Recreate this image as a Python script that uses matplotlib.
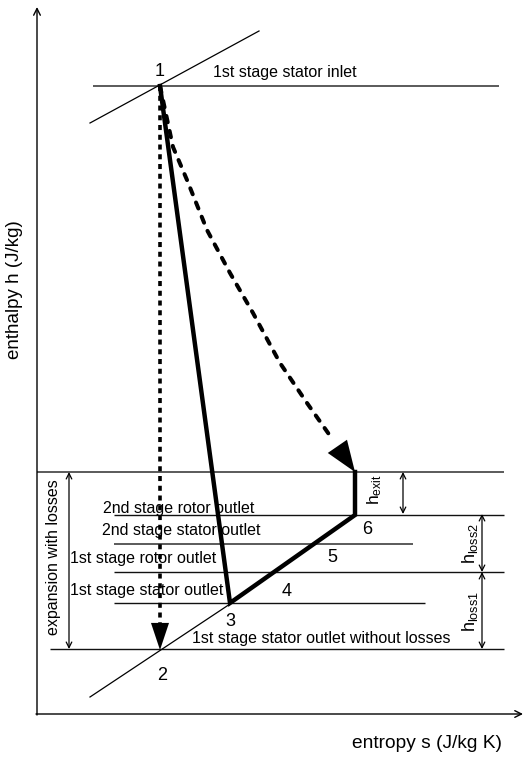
import matplotlib
matplotlib.use("Agg")
import matplotlib.pyplot as plt

plt.rcParams['font.family'] = ['Liberation Sans', 'DejaVu Sans']
plt.rcParams['mathtext.default'] = 'regular'

# ---- schematic data (entropy s -> x, enthalpy h -> y, drawing units) ----
# state points
state_labels = ["1", "2", "3", "6"]
state_s = [160, 160, 230, 355]
state_h = [86, 650, 603, 515]
exit_s, exit_h = 355, 472

# real expansion path 1 -> 3 -> 6 -> exit
path_s = [160, 230, 355, 355]
path_h = [86, 603, 515, 472]

# dashed overall expansion curve (1 -> exit)
curve_s = [160, 173, 187, 207, 230, 253, 280, 307, 333]
curve_h = [86, 147, 180, 230, 273, 313, 363, 403, 440]

# pressure level lines
level_names = ["1st stage stator inlet", "", "2nd stage rotor outlet",
               "2nd stage stator outlet", "1st stage rotor outlet",
               "1st stage stator outlet", "1st stage stator outlet without losses"]
level_h = [86, 472, 515, 544, 572, 603, 649]
level_s0 = [93, 37, 114, 114, 114, 114, 50]
level_s1 = [499, 504, 504, 413, 504, 425, 504]
level_grey = [True, True, False, True, False, False, False]
label_s = [213, None, 103, 102, 70, 70, 192]
label_h = [73, None, 508, 530, 559, 591, 639]

# isobar slanted lines
isobar1_s = [90, 259]
isobar1_h = [123, 31]
isobar2_s = [90, 230]
isobar2_h = [697, 604]

# numbered point labels
num_labels = ["1", "2", "3", "4", "5", "6"]
num_s = [160, 162, 230, 287, 332, 367]
num_h = [72, 676, 621, 591, 557, 530]

fig = plt.figure(figsize=(5.28, 7.69), dpi=100)
ax = fig.add_axes([0, 0, 1, 1])
ax.set_xlim(0, 528)
ax.set_ylim(769, 0)
ax.axis('off')

# axes with arrows
ax.annotate('', xy=(37, 7), xytext=(37, 715),
            arrowprops=dict(arrowstyle='->', lw=1.0, color='k', mutation_scale=12,
                            shrinkA=0, shrinkB=0))
ax.annotate('', xy=(523, 714), xytext=(36, 714),
            arrowprops=dict(arrowstyle='->', lw=1.0, color='k', mutation_scale=12,
                            shrinkA=0, shrinkB=0))
ax.text(15, 290, "enthalpy h (J/kg)", rotation=90, ha='center', va='center', fontsize=13.5)
ax.text(502, 744, "entropy s (J/kg K)", ha='right', va='center', fontsize=13.8)

# level lines
for h, s0, s1, g in zip(level_h, level_s0, level_s1, level_grey):
    ax.plot([s0, s1], [h, h], color='#5a5a5a' if g else '#111111',
            lw=1.4 if g else 1.0, solid_capstyle='butt', zorder=1)
for name, s, h in zip(level_names, label_s, label_h):
    if name:
        ax.text(s, h, name, ha='left', va='center', fontsize=11.5, zorder=3)

# isobars
ax.plot(isobar1_s, isobar1_h, color='k', lw=0.9)
ax.plot(isobar2_s, isobar2_h, color='k', lw=0.9)

# isentropic expansion (dotted) 1 -> 2
ax.plot([state_s[0], state_s[1]], [state_h[0], 632], color='k', lw=2.6,
        linestyle=(0, (1.4, 1.3)), dash_capstyle='butt', zorder=2)
ax.annotate('', xy=(state_s[1], state_h[1]), xytext=(state_s[1], 628),
            arrowprops=dict(arrowstyle='-|>,head_length=1.5,head_width=0.5', lw=0,
                            color='k', mutation_scale=13, shrinkA=0, shrinkB=0))

# overall expansion curve (dashed) 1 -> exit
ax.plot(curve_s, curve_h, color='k', lw=2.9, linestyle=(0, (1.6, 2.2)),
        dash_capstyle='round', zorder=2)
ax.annotate('', xy=(exit_s, exit_h), xytext=(curve_s[-1], curve_h[-1]),
            arrowprops=dict(arrowstyle='-|>,head_length=1.6,head_width=0.6', lw=0,
                            color='k', mutation_scale=14, shrinkA=0, shrinkB=0))

# real expansion path
ax.plot(path_s, path_h, color='k', lw=3.2, solid_joinstyle='miter', zorder=3)

# point labels
for t, s, h in zip(num_labels, num_s, num_h):
    ax.text(s, h, t, ha='center', va='center', fontsize=13, zorder=4)

# dimension arrows
dims = [(69, 472, 649), (403, 472, 514), (482, 514, 572), (482, 572, 649)]
for s, h0, h1 in dims:
    ax.annotate('', xy=(s, h0), xytext=(s, h1),
                arrowprops=dict(arrowstyle='<->', lw=0.9, color='k', mutation_scale=10,
                                shrinkA=0, shrinkB=0))
ax.text(54, 557, "expansion with losses", rotation=90, ha='center', va='center', fontsize=11.5)
ax.text(375, 490, r"h$_{exit}$", rotation=90, ha='center', va='center', fontsize=12.5)
ax.text(470, 543, r"h$_{loss2}$", rotation=90, ha='center', va='center', fontsize=13)
ax.text(470, 612, r"h$_{loss1}$", rotation=90, ha='center', va='center', fontsize=13)

fig.savefig("out.png", dpi=100)
